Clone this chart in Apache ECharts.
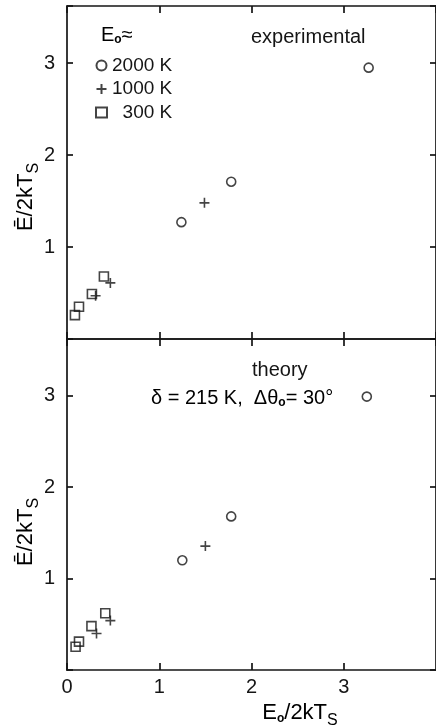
<!DOCTYPE html>
<html>
<head>
<meta charset="utf-8">
<script src="https://cdn.jsdelivr.net/npm/echarts@6/dist/echarts.min.js"></script>
<style>
  html, body { margin: 0; padding: 0; background: #fff; }
  #chart { width: 436px; height: 727px; }
</style>
</head>
<body>
<div id="chart"></div>
<script>
// temperatures (legend)
var tempNames = ['2000 K', '1000 K', '\u2007300 K'];

// experimental panel: [E0/2kTs, Ebar/2kTs]
var exp2000 = [[1.24, 1.27], [1.78, 1.71], [3.27, 2.95]];
var exp1000 = [[0.31, 0.47], [0.47, 0.61], [1.49, 1.48]];
var exp300 = [[0.086, 0.26], [0.13, 0.35], [0.27, 0.49], [0.40, 0.68]];

// theory panel
var th2000 = [[1.25, 1.20], [1.78, 1.68], [3.25, 2.99]];
var th1000 = [[0.32, 0.40], [0.47, 0.54], [1.50, 1.355]];
var th300 = [[0.093, 0.255], [0.13, 0.31], [0.265, 0.48], [0.415, 0.62]];

var xTicks = [0, 1, 2, 3];
var yTicks = [1, 2, 3];

var myChart = echarts.init(document.getElementById('chart'));

var FONT = 'Liberation Sans';
var INK = '#151515';

var plusPath = 'path://M0,5L10,5M5,0L5,10';
var symbols = ['circle', plusPath, 'rect'];
var sizes = [9, 10, 9];

var lineStyle = { color: INK, width: 1.7 };

function xAxisOf(grid, pos, showLabel) {
    return {
        type: 'value', gridIndex: grid, position: pos,
        min: 0, max: 4, interval: 1,
        axisLine: { show: true, onZero: false, lineStyle: lineStyle },
        axisTick: { show: true, inside: true, length: 7, lineStyle: lineStyle },
        axisLabel: {
            show: showLabel, showMaxLabel: false, margin: 7,
            color: INK, fontFamily: FONT, fontSize: 20,
            formatter: function (v) { return xTicks.indexOf(v) >= 0 ? String(v) : ''; }
        },
        splitLine: { show: false }
    };
}

function yAxisOf(grid, pos, showLabel) {
    return {
        type: 'value', gridIndex: grid, position: pos,
        min: 0, max: 3.62, interval: 1,
        axisLine: { show: true, onZero: false, lineStyle: lineStyle },
        axisTick: { show: true, inside: true, length: 6, lineStyle: lineStyle },
        axisLabel: {
            show: showLabel, margin: 12,
            color: INK, fontFamily: FONT, fontSize: 20,
            formatter: function (v) { return yTicks.indexOf(v) >= 0 ? String(v) : ''; }
        },
        splitLine: { show: false }
    };
}

function scatter(name, data, k, xi, yi) {
    return {
        name: name, type: 'scatter',
        xAxisIndex: xi, yAxisIndex: yi,
        data: data,
        symbol: symbols[k], symbolSize: sizes[k],
        itemStyle: { color: 'rgba(0,0,0,0)', borderColor: INK, borderWidth: 1.6 },
        emphasis: { disabled: true }
    };
}

var subRich = {
    m: { fontFamily: FONT, fontSize: 20, color: INK, lineHeight: 30, verticalAlign: 'middle' },
    b: { fontFamily: FONT, fontSize: 22, color: INK, lineHeight: 32, verticalAlign: 'middle' },
    s: { fontFamily: FONT, fontSize: 16, color: INK, lineHeight: 32, verticalAlign: 'bottom' },
    o: { fontFamily: FONT, fontSize: 12, color: INK, fontWeight: 'bold', lineHeight: 30, verticalAlign: 'bottom', padding: [0, 0, 4, 0] }
};

var option = {
    backgroundColor: '#fff',
    animation: false,
    grid: [
        { left: 67, top: 6, width: 373, height: 333 },
        { left: 67, top: 339, width: 373, height: 331 }
    ],
    xAxis: [
        xAxisOf(0, 'top', false),
        xAxisOf(0, 'bottom', false),
        xAxisOf(1, 'top', false),
        xAxisOf(1, 'bottom', true)
    ],
    yAxis: [
        yAxisOf(0, 'left', true),
        yAxisOf(0, 'right', false),
        yAxisOf(1, 'left', true),
        yAxisOf(1, 'right', false)
    ],
    legend: {
        data: tempNames,
        orient: 'vertical',
        left: 90, top: 51,
        itemWidth: 11, itemHeight: 10, itemGap: 4.5,
        selectedMode: false,
        textStyle: { color: INK, fontFamily: FONT, fontSize: 19 }
    },
    graphic: [
        {
            type: 'text', left: 101, top: 25,
            style: { text: '{m|E}{o|o}{m|\u2248}', rich: subRich }
        },
        {
            type: 'text', left: 251, top: 27,
            style: { text: 'experimental', fill: INK, font: '20px "' + FONT + '"' }
        },
        {
            type: 'text', left: 252, top: 360,
            style: { text: 'theory', fill: INK, font: '20px "' + FONT + '"' }
        },
        {
            type: 'text', left: 151, top: 388,
            style: { text: '{m|\u03b4 = 215 K,  \u0394\u03b8}{o|o}{m|= 30\u00b0}', rich: subRich }
        },
        {
            type: 'text', x: 26, y: 197, rotation: Math.PI / 2,
            style: { text: '{b|\u0112/2kT}{s|S}', rich: subRich, align: 'center', verticalAlign: 'middle' }
        },
        {
            type: 'text', x: 26, y: 532, rotation: Math.PI / 2,
            style: { text: '{b|\u0112/2kT}{s|S}', rich: subRich, align: 'center', verticalAlign: 'middle' }
        },
        {
            type: 'text', x: 300, y: 713,
            style: { text: '{b|E}{o|o}{b|/2kT}{s|S}', rich: subRich, align: 'center', verticalAlign: 'middle' }
        }
    ],
    series: [
        scatter(tempNames[0], exp2000, 0, 1, 0),
        scatter(tempNames[1], exp1000, 1, 1, 0),
        scatter(tempNames[2], exp300, 2, 1, 0),
        scatter(tempNames[0], th2000, 0, 3, 2),
        scatter(tempNames[1], th1000, 1, 3, 2),
        scatter(tempNames[2], th300, 2, 3, 2)
    ]
};

myChart.setOption(option);
window.onresize = myChart.resize;
</script>
</body>
</html>
